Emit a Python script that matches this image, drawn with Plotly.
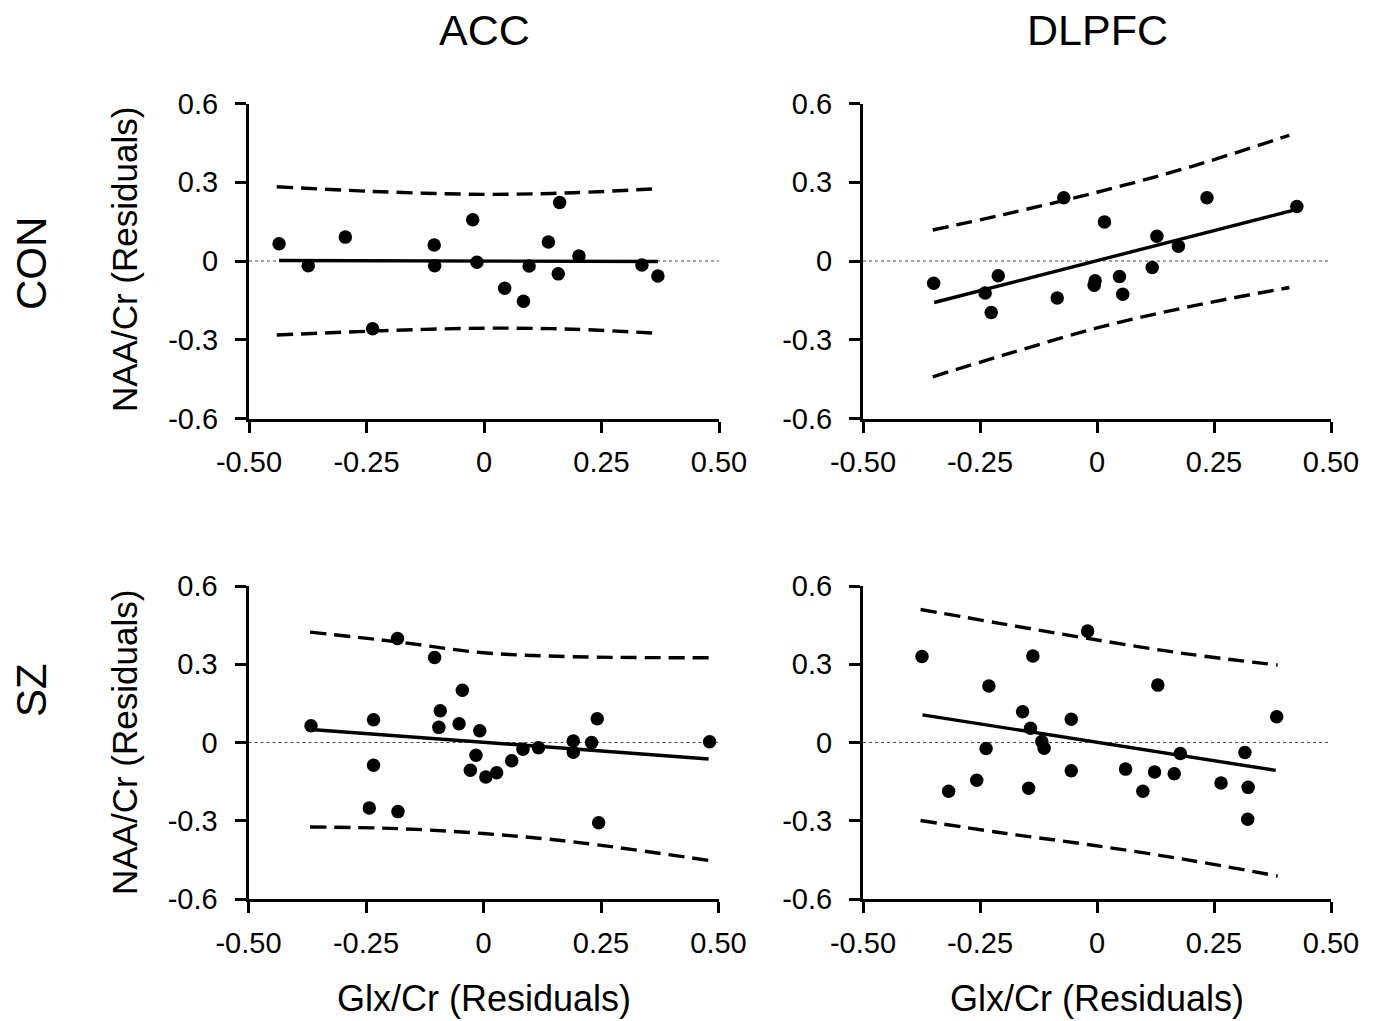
import plotly.graph_objects as go

# ---------------- data ----------------
# Panel A: ACC, CON
acc_con_x = [-0.436, -0.374, -0.295, -0.237, -0.106, -0.105, -0.024, -0.015, 0.044, 0.084,
             0.096, 0.137, 0.161, 0.158, 0.202, 0.336, 0.370]
acc_con_y = [0.066, -0.018, 0.091, -0.258, 0.061, -0.018, 0.157, -0.005, -0.104, -0.153,
             -0.019, 0.072, 0.223, -0.049, 0.019, -0.015, -0.057]
acc_con_fit_x = [-0.436, 0.370]
acc_con_fit_y = [0.002, -0.002]
acc_con_band_x = [-0.441, -0.236, 0.0, 0.19, 0.372]
acc_con_upper = [0.283, 0.265, 0.254, 0.260, 0.276]
acc_con_lower = [-0.282, -0.267, -0.256, -0.260, -0.276]

# Panel B: DLPFC, CON
dl_con_x = [-0.349, -0.239, -0.226, -0.211, -0.085, -0.071, -0.006, -0.004, 0.016, 0.048,
            0.055, 0.118, 0.128, 0.174, 0.235, 0.427]
dl_con_y = [-0.085, -0.122, -0.196, -0.056, -0.141, 0.241, -0.092, -0.075, 0.149, -0.059,
            -0.127, -0.025, 0.094, 0.056, 0.241, 0.208]
dl_con_fit_x = [-0.348, 0.425]
dl_con_fit_y = [-0.158, 0.196]
dl_con_band_x = [-0.351, -0.2, 0.0, 0.2, 0.411]
dl_con_upper = [0.118, 0.177, 0.262, 0.359, 0.479]
dl_con_lower = [-0.441, -0.359, -0.255, -0.173, -0.101]

# Panel C: ACC, SZ
acc_sz_x = [-0.367, -0.234, -0.234, -0.243, -0.183, -0.182, -0.104, -0.092, -0.095, -0.045,
            -0.052, -0.008, -0.016, -0.028, 0.005, 0.028, 0.060, 0.084, 0.117, 0.191,
            0.191, 0.230, 0.242, 0.245, 0.481]
acc_sz_y = [0.064, 0.087, -0.087, -0.251, 0.399, -0.265, 0.326, 0.122, 0.058, 0.200,
            0.072, 0.045, -0.049, -0.106, -0.132, -0.116, -0.070, -0.026, -0.020, 0.006,
            -0.037, 0.000, 0.091, -0.308, 0.003]
acc_sz_fit_x = [-0.367, 0.479]
acc_sz_fit_y = [0.050, -0.063]
acc_sz_band_x = [-0.369, -0.184, 0.0, 0.191, 0.479]
acc_sz_upper = [0.423, 0.386, 0.344, 0.329, 0.325]
acc_sz_lower = [-0.324, -0.330, -0.349, -0.381, -0.452]

# Panel D: DLPFC, SZ
dl_sz_x = [-0.374, -0.317, -0.231, -0.237, -0.257, -0.137, -0.159, -0.142, -0.118, -0.113,
           -0.146, -0.055, -0.055, -0.020, 0.061, 0.098, 0.123, 0.130, 0.165, 0.178,
           0.265, 0.316, 0.323, 0.322, 0.384]
dl_sz_y = [0.330, -0.187, 0.217, -0.023, -0.145, 0.332, 0.118, 0.055, 0.004, -0.022,
           -0.175, 0.089, -0.108, 0.427, -0.102, -0.187, -0.113, 0.220, -0.120, -0.042,
           -0.155, -0.038, -0.172, -0.294, 0.099]
dl_sz_fit_x = [-0.373, 0.382]
dl_sz_fit_y = [0.106, -0.107]
dl_sz_band_x = [-0.377, -0.205, -0.02, 0.187, 0.386]
dl_sz_upper = [0.510, 0.456, 0.399, 0.341, 0.297]
dl_sz_lower = [-0.299, -0.346, -0.391, -0.448, -0.512]

col_titles = ["ACC", "DLPFC"]
row_titles = ["CON", "SZ"]
x_title = "Glx/Cr (Residuals)"
y_title = "NAA/Cr (Residuals)"
x_tickvals = [-0.5, -0.25, 0, 0.25, 0.5]
x_ticktext = ["-0.50", "-0.25", "0", "0.25", "0.50"]
y_tickvals = [-0.6, -0.3, 0, 0.3, 0.6]
y_ticktext = ["-0.6", "-0.3", "0", "0.3", "0.6"]

# ---------------- figure ----------------
W, H = 1376, 1021
FONT = "Liberation Sans, Arial, Helvetica, sans-serif"


def fx_(px):
    return px / W


def fy_(py):
    return 1 - py / H


panels = [
    ("", (249, 719), (103.5, 418.5),
     (acc_con_x, acc_con_y, acc_con_fit_x, acc_con_fit_y, acc_con_band_x, acc_con_upper, acc_con_lower)),
    ("2", (863, 1331), (103.5, 418.5),
     (dl_con_x, dl_con_y, dl_con_fit_x, dl_con_fit_y, dl_con_band_x, dl_con_upper, dl_con_lower)),
    ("3", (248.5, 718.5), (586, 899),
     (acc_sz_x, acc_sz_y, acc_sz_fit_x, acc_sz_fit_y, acc_sz_band_x, acc_sz_upper, acc_sz_lower)),
    ("4", (863, 1331), (586, 899),
     (dl_sz_x, dl_sz_y, dl_sz_fit_x, dl_sz_fit_y, dl_sz_band_x, dl_sz_upper, dl_sz_lower)),
]

fig = go.Figure()
layout = dict(
    width=W, height=H,
    margin=dict(l=0, r=0, t=0, b=0, pad=0, autoexpand=False),
    paper_bgcolor="white", plot_bgcolor="white",
    showlegend=False,
    font=dict(family=FONT, color="black"),
)
shapes = []

for suf, (x0, x1), (ytop, ybot), (px, py, fx, fy, bx, bu, bl) in panels:
    xa, ya = "x" + suf, "y" + suf
    dash = dict(color="black", width=3.4, dash="16px,8px")
    fig.add_trace(go.Scatter(x=bx, y=bu, mode="lines", line=dict(**dash, shape="spline"),
                             xaxis=xa, yaxis=ya, hoverinfo="skip"))
    fig.add_trace(go.Scatter(x=bx, y=bl, mode="lines", line=dict(**dash, shape="spline"),
                             xaxis=xa, yaxis=ya, hoverinfo="skip"))
    fig.add_trace(go.Scatter(x=fx, y=fy, mode="lines", line=dict(color="black", width=3.4),
                             xaxis=xa, yaxis=ya))
    fig.add_trace(go.Scatter(x=px, y=py, mode="markers",
                             marker=dict(color="black", size=13.5, line=dict(width=0)),
                             xaxis=xa, yaxis=ya))
    shapes.append(dict(type="line", xref=xa, yref=ya, x0=-0.5, x1=0.5, y0=0, y1=0,
                       line=dict(color="#444444", width=1, dash="dot"), layer="below"))
    common = dict(showline=True, linewidth=3, linecolor="black", ticks="outside",
                  ticklen=11, tickwidth=3, tickcolor="black", showgrid=False,
                  zeroline=False, automargin=False,
                  tickfont=dict(family=FONT, size=29, color="black"))
    layout["xaxis" + suf] = dict(domain=[fx_(x0), fx_(x1)], range=[-0.5, 0.5],
                                 tickvals=x_tickvals, ticktext=x_ticktext,
                                 anchor=ya, ticklabelstandoff=5, **common)
    layout["yaxis" + suf] = dict(domain=[fy_(ybot), fy_(ytop)], range=[-0.6, 0.6],
                                 tickvals=y_tickvals, ticktext=y_ticktext,
                                 anchor=xa, ticklabelstandoff=11, **common)

annotations = []
for cx, t in zip([484, 1097], col_titles):
    annotations.append(dict(text=t, x=fx_(cx), y=fy_(30), xref="paper", yref="paper",
                            showarrow=False, font=dict(size=43, family=FONT, color="black"),
                            xanchor="center", yanchor="middle"))
for cy, t in zip([263, 690], row_titles):
    annotations.append(dict(text=t, x=fx_(31), y=fy_(cy), xref="paper", yref="paper",
                            showarrow=False, textangle=-90,
                            font=dict(size=42, family=FONT, color="black"),
                            xanchor="center", yanchor="middle"))
for cy in [259, 742]:
    annotations.append(dict(text=y_title, x=fx_(124), y=fy_(cy), xref="paper", yref="paper",
                            showarrow=False, textangle=-90,
                            font=dict(size=35, family=FONT, color="black"),
                            xanchor="center", yanchor="middle"))
for cx in [484, 1097]:
    annotations.append(dict(text=x_title, x=fx_(cx), y=0, xref="paper", yref="paper",
                            showarrow=False, font=dict(size=36, family=FONT, color="black"),
                            xanchor="center", yanchor="bottom"))

layout["annotations"] = annotations
layout["shapes"] = shapes
fig.update_layout(**layout)
fig.write_html(
    "out.html",
    config={"displayModeBar": False, "staticPlot": True},
    post_script="document.body.style.margin='0';document.body.style.overflow='hidden';",
)
